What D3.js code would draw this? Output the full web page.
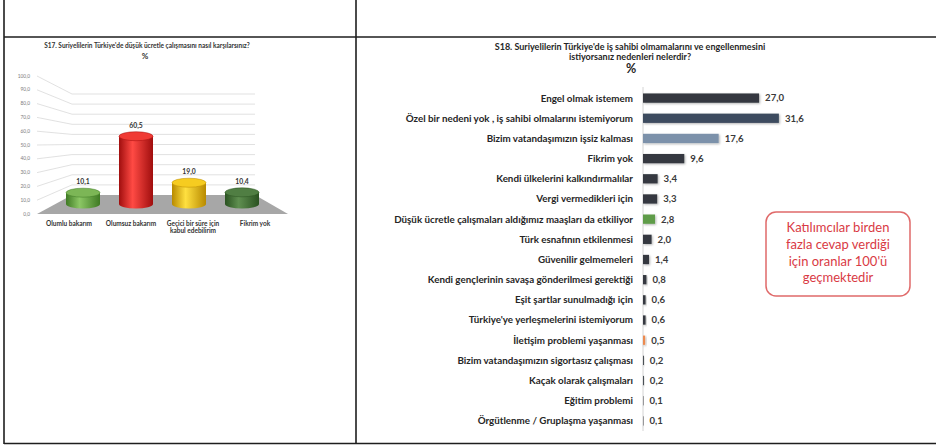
<!DOCTYPE html>
<html lang="tr">
<head>
<meta charset="utf-8">
<script src="https://cdn.jsdelivr.net/npm/d3@7/dist/d3.min.js"></script>
<style>
  html, body { margin: 0; padding: 0; background: #fff; }
  svg { display: block; font-family: "Lato", "Open Sans", sans-serif; }
</style>
</head>
<body>
<svg id="chart" width="936" height="445"></svg>
<script>
// S17 – 3D column chart
const s17Categories = ["Olumlu bakarım", "Olumsuz bakarım", "Geçici bir süre için kabul edebilirim", "Fikrim yok"];
const s17Lines = [["Olumlu bakarım"], ["Olumsuz bakarım"], ["Geçici bir süre için", "kabul edebilirim"], ["Fikrim yok"]];
const s17Values = [10.1, 60.5, 19.0, 10.4];
const s17Ticks = [0, 10, 20, 30, 40, 50, 60, 70, 80, 90, 100];

// S18 – horizontal bars
const s18Categories = [
  "Engel olmak istemem",
  "Özel bir nedeni yok , iş sahibi olmalarını istemiyorum",
  "Bizim vatandaşımızın işsiz kalması",
  "Fikrim yok",
  "Kendi ülkelerini kalkındırmalılar",
  "Vergi vermedikleri için",
  "Düşük ücretle çalışmaları aldığımız maaşları da etkiliyor",
  "Türk esnafının etkilenmesi",
  "Güvenilir gelmemeleri",
  "Kendi gençlerinin savaşa gönderilmesi gerektiği",
  "Eşit şartlar sunulmadığı için",
  "Türkiye'ye yerleşmelerini istemiyorum",
  "İletişim problemi yaşanması",
  "Bizim vatandaşımızın sigortasız çalışması",
  "Kaçak olarak çalışmaları",
  "Eğitim problemi",
  "Örgütlenme / Gruplaşma yaşanması"
];
const s18Values = [27.0, 31.6, 17.6, 9.6, 3.4, 3.3, 2.8, 2.0, 1.4, 0.8, 0.6, 0.6, 0.5, 0.2, 0.2, 0.1, 0.1];

const fmt = v => d3.format(".1f")(v).replace(".", ",");
const svg = d3.select("#chart");

// ---------- table frame ----------
const frame = svg.append("g").attr("stroke", "#1e1e1e").attr("stroke-width", 1.6);
frame.append("line").attr("x1", 4).attr("x2", 4).attr("y1", 0).attr("y2", 444);
frame.append("line").attr("x1", 356).attr("x2", 356).attr("y1", 0).attr("y2", 444);
frame.append("line").attr("x1", 4).attr("x2", 936).attr("y1", 37).attr("y2", 37);
frame.append("line").attr("x1", 4).attr("x2", 936).attr("y1", 443.5).attr("y2", 443.5);

// ---------- S17 ----------
const left = svg.append("g");
left.append("text").attr("x", 147).attr("y", 48).attr("text-anchor", "middle")
  .attr("font-size", 6.5).attr("font-weight", 700).attr("fill", "#333")
  .text("S17. Suriyelilerin Türkiye'de düşük ücretle çalışmasını nasıl karşılarsınız?");
left.append("text").attr("x", 145).attr("y", 58.5).attr("text-anchor", "middle")
  .attr("font-size", 8).attr("font-weight", 700).attr("fill", "#333").text("%");

// front and back value planes of the 3D box
const yFront = d3.scaleLinear().domain([0, 100]).range([214, 76]);
const yBack = d3.scaleLinear().domain([0, 100]).range([195, 94]);
const yMid = d3.scaleLinear().domain([0, 100]).range([204, 92]);
const xFront0 = 37, xBack0 = 72, xBack1 = 255, xFront1 = 288;

// floor
left.append("polygon")
  .attr("points", [[xFront0, yFront(0)], [xFront1, yFront(0)], [xBack1, yBack(0)], [xBack0, yBack(0)]].join(" "))
  .attr("fill", "#a7a7a7");

// gridlines
left.append("g").selectAll("path").data(s17Ticks.filter(t => t > 0)).join("path")
  .attr("d", t => `M${xFront0},${yFront(t)}L${xBack0},${yBack(t)}L${xBack1},${yBack(t)}`)
  .attr("fill", "none").attr("stroke", "#d9d9d9").attr("stroke-width", 0.8);

left.append("g").selectAll("text").data(s17Ticks).join("text")
  .attr("x", 30).attr("y", t => yFront(t)).attr("dy", "0.35em").attr("text-anchor", "end")
  .attr("font-size", 4.8).attr("fill", "#7a7a7a").text(t => fmt(t));

// cylinders
const s17Colors = [
  ["#3f7a24", "#8cc765", "#3f7a24", "#7cb656"],
  ["#a00e0e", "#ff4a44", "#a00e0e", "#f03a34"],
  ["#b88a00", "#ffe040", "#b88a00", "#f6cc20"],
  ["#2a5221", "#5f8f50", "#2a5221", "#507e43"]
];
const defs = svg.append("defs");
s17Colors.forEach((c, i) => {
  const g = defs.append("linearGradient").attr("id", "cyl" + i).attr("x1", 0).attr("x2", 1).attr("y1", 0).attr("y2", 0);
  g.append("stop").attr("offset", "0%").attr("stop-color", c[0]);
  g.append("stop").attr("offset", "40%").attr("stop-color", c[1]);
  g.append("stop").attr("offset", "100%").attr("stop-color", c[2]);
});

const xCyl = d3.scalePoint().domain(s17Categories).range([83, 242]);
const rx = 17, ry = 4.5;
const cyl = left.append("g").selectAll("g").data(s17Categories).join("g");
cyl.append("path")
  .attr("d", (d, i) => {
    const cx = xCyl(d), top = yMid(s17Values[i]), base = yMid(0);
    return `M${cx - rx},${top}L${cx - rx},${base}A${rx},${ry} 0 0 0 ${cx + rx},${base}L${cx + rx},${top}Z`;
  })
  .attr("fill", (d, i) => `url(#cyl${i})`);
cyl.append("ellipse")
  .attr("cx", d => xCyl(d)).attr("cy", (d, i) => yMid(s17Values[i]))
  .attr("rx", rx).attr("ry", ry)
  .attr("fill", (d, i) => s17Colors[i][3]).attr("stroke", (d, i) => s17Colors[i][0]).attr("stroke-width", 0.5);
cyl.append("text")
  .attr("x", d => xCyl(d)).attr("y", (d, i) => yMid(s17Values[i]) - ry - 4)
  .attr("text-anchor", "middle").attr("font-size", 6.8).attr("font-weight", 700).attr("fill", "#333")
  .text((d, i) => fmt(s17Values[i]));

// category labels at the front edge
const xLab = d3.scalePoint().domain(s17Categories).range([69, 255]);
left.append("g").selectAll("text").data(s17Categories).join("text")
  .attr("x", d => xLab(d)).attr("y", 225.5)
  .attr("text-anchor", "middle").attr("font-size", 6.5).attr("font-weight", 700).attr("fill", "#333")
  .each(function (d, i) {
    d3.select(this).selectAll("tspan").data(s17Lines[i]).join("tspan")
      .attr("x", xLab(d)).attr("dy", (l, j) => j === 0 ? 0 : 7.5).text(l => l);
  });

// ---------- S18 ----------
const right = svg.append("g");
right.append("text").attr("x", 630).attr("y", 50).attr("text-anchor", "middle")
  .attr("font-size", 9).attr("font-weight", 700).attr("fill", "#262626")
  .text("S18. Suriyelilerin Türkiye'de iş sahibi olmamalarını ve engellenmesini");
right.append("text").attr("x", 630).attr("y", 60).attr("text-anchor", "middle")
  .attr("font-size", 9).attr("font-weight", 700).attr("fill", "#262626")
  .text("istiyorsanız nedenleri nelerdir?");
right.append("text").attr("x", 631).attr("y", 73).attr("text-anchor", "middle")
  .attr("font-size", 12.5).attr("font-weight", 700).attr("fill", "#262626").text("%");

const y = d3.scaleBand().domain(s18Categories).range([88, 431]).paddingInner(0.54).paddingOuter(0.27);
const x = d3.scaleLinear().domain([0, 35]).range([643, 643 + 4.3 * 35]);

const barColor = d => {
  if (d === "Özel bir nedeni yok , iş sahibi olmalarını istemiyorum") return "#3d4b5e";
  if (d === "Bizim vatandaşımızın işsiz kalması") return "#7c91aa";
  if (d === "Düşük ücretle çalışmaları aldığımız maaşları da etkiliyor") return "#5e9c48";
  if (d === "İletişim problemi yaşanması") return "#ec8a50";
  return "#34393f";
};

const shadow = defs.append("filter").attr("id", "barShadow").attr("x", "-20%").attr("y", "-40%").attr("width", "160%").attr("height", "200%");
shadow.append("feDropShadow").attr("dx", 1).attr("dy", 1).attr("stdDeviation", 0.8)
  .attr("flood-color", "#000").attr("flood-opacity", 0.3);

right.append("line").attr("x1", x(0)).attr("x2", x(0)).attr("y1", 87).attr("y2", 431)
  .attr("stroke", "#d4d4d4").attr("stroke-width", 1);

right.append("g").selectAll("rect").data(s18Categories).join("rect")
  .attr("x", x(0)).attr("y", d => y(d)).attr("height", y.bandwidth())
  .attr("width", (d, i) => x(s18Values[i]) - x(0))
  .attr("fill", barColor).attr("filter", "url(#barShadow)");

right.append("g").selectAll("text").data(s18Categories).join("text")
  .attr("x", 633).attr("y", d => y(d) + y.bandwidth() / 2).attr("dy", "0.35em")
  .attr("text-anchor", "end").attr("font-size", 9.8).attr("font-weight", 700).attr("fill", "#262626")
  .text(d => d);

right.append("g").selectAll("text").data(s18Categories).join("text")
  .attr("x", (d, i) => x(s18Values[i]) + 6).attr("y", d => y(d) + y.bandwidth() / 2).attr("dy", "0.35em")
  .attr("font-size", 9.6).attr("font-weight", 700).attr("fill", "#3a3a3a")
  .text((d, i) => fmt(s18Values[i]));

// note box
const note = right.append("g");
note.append("rect").attr("x", 766).attr("y", 212).attr("width", 144).attr("height", 84)
  .attr("rx", 10).attr("fill", "#fff").attr("stroke", "#e06a6a").attr("stroke-width", 1.5);
const noteLines = ["Katılımcılar birden", "fazla cevap verdiği", "için oranlar 100'ü", "geçmektedir"];
note.append("text").attr("text-anchor", "middle").attr("font-size", 13).attr("fill", "#d93a44")
  .selectAll("tspan").data(noteLines).join("tspan")
  .attr("x", 838).attr("y", (d, i) => 232 + i * 16.8).text(d => d);
</script>
</body>
</html>
